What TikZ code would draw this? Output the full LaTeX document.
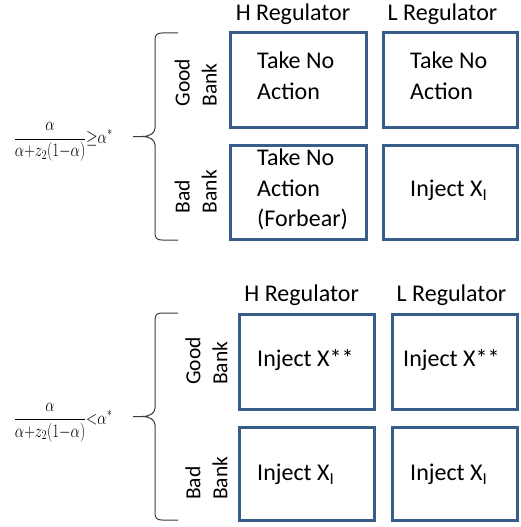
\RequirePackage{fix-cm}
\documentclass[tikz,border=0pt]{standalone}
\usepackage{fontspec}
\usepackage{graphicx}
\setmainfont{Carlito}
\definecolor{boxblue}{RGB}{56,93,138}
\definecolor{bracegray}{RGB}{60,60,60}
\begin{document}
\begin{tikzpicture}[x=1pt,y=-1pt,
  cell/.style={draw=boxblue, line width=3pt, inner sep=0pt},
  hdr/.style={anchor=base, font=\fontsize{24}{30}\selectfont, inner sep=0pt},
  txt/.style={anchor=base west, align=left, font=\fontsize{24}{30.5}\selectfont, inner sep=0pt},
  side/.style={rotate=90, anchor=base west, align=left, font=\fontsize{21.5}{27}\selectfont, inner sep=0pt},
  brc/.style={draw=bracegray, line width=1pt},
  frm/.style={anchor=base west, inner sep=0pt, font=\fontsize{19}{23}\selectfont}]
\useasboundingbox (0,0) rectangle (520,527);

% ---------- top group ----------
\node[hdr] (tH) at (293,20.7) {H Regulator};
\node[hdr] (tL) at (442.5,20.7) {L Regulator};

\node[cell, minimum width=136pt, minimum height=94pt] (tHG) at (298.5,80) {};
\node[cell, minimum width=133.5pt, minimum height=94pt] (tLG) at (450.25,80) {};
\node[cell, minimum width=136pt, minimum height=94pt] (tHB) at (298.5,192) {};
\node[cell, minimum width=133.5pt, minimum height=94pt] (tLB) at (450.25,192) {};

% multi-line nodes: base anchor = baseline of the last line
\node[txt] (tHGt) at (257,99.3) {Take No\\Action};
\node[txt] (tLGt) at (410,99.3) {Take No\\Action};
\node[txt] (tHBt) at (257,226.7) {Take No\\Action\\(Forbear)};
\node[txt] (tLBt) at (410,196.7) {Inject X\textsubscript{I}};

\node[side] (tGood) at (216.7,106.7) {Good\\Bank};
\node[side] (tBad) at (216.7,213.3) {Bad\\Bank};

\draw[brc] (178,33) -- (162,33) .. controls (157,33) and (155,35) .. (155,40)
  -- (155,128) .. controls (155,133) and (150,136.5) .. (142,136.5) -- (133,136.5)
  -- (142,136.5) .. controls (150,136.5) and (155,140) .. (155,145)
  -- (155,233) .. controls (155,238) and (157,240) .. (162,240) -- (178,240);

\node[frm] (tF) at (13.8,143.8)
  {\scalebox{0.78}[1]{$\displaystyle\frac{\alpha}{\alpha{+}z_2(1{-}\alpha)}{\geq}\alpha^{*}$}};

% ---------- bottom group ----------
\node[hdr] (bH) at (301.7,301.7) {H Regulator};
\node[hdr] (bL) at (451.5,301.7) {L Regulator};

\node[cell, minimum width=135.5pt, minimum height=94.5pt] (bHG) at (306.75,361.75) {};
\node[cell, minimum width=125.5pt, minimum height=94.5pt] (bLG) at (454.75,361.75) {};
\node[cell, minimum width=135.5pt, minimum height=93.5pt] (bHB) at (306.75,473.75) {};
\node[cell, minimum width=125.5pt, minimum height=93.5pt] (bLB) at (454.75,473.75) {};

\node[txt] (bHGt) at (257,366.7) {Inject X**};
\node[txt] (bLGt) at (403,366.7) {Inject X**};
\node[txt] (bHBt) at (257,480.7) {Inject X\textsubscript{I}};
\node[txt] (bLBt) at (410,480.7) {Inject X\textsubscript{I}};

\node[side] (bGood) at (227.3,385) {Good\\Bank};
\node[side] (bBad) at (227.3,500) {Bad\\Bank};

\draw[brc] (178,313) -- (162,313) .. controls (157,313) and (155,315) .. (155,320)
  -- (155,408) .. controls (155,413) and (150,416.5) .. (142,416.5) -- (133,416.5)
  -- (142,416.5) .. controls (150,416.5) and (155,420) .. (155,425)
  -- (155,513) .. controls (155,518) and (157,520) .. (162,520) -- (178,520);

\node[frm] (bF) at (13.8,424)
  {\scalebox{0.78}[1]{$\displaystyle\frac{\alpha}{\alpha{+}z_2(1{-}\alpha)}{<}\alpha^{*}$}};
\end{tikzpicture}
\end{document}
